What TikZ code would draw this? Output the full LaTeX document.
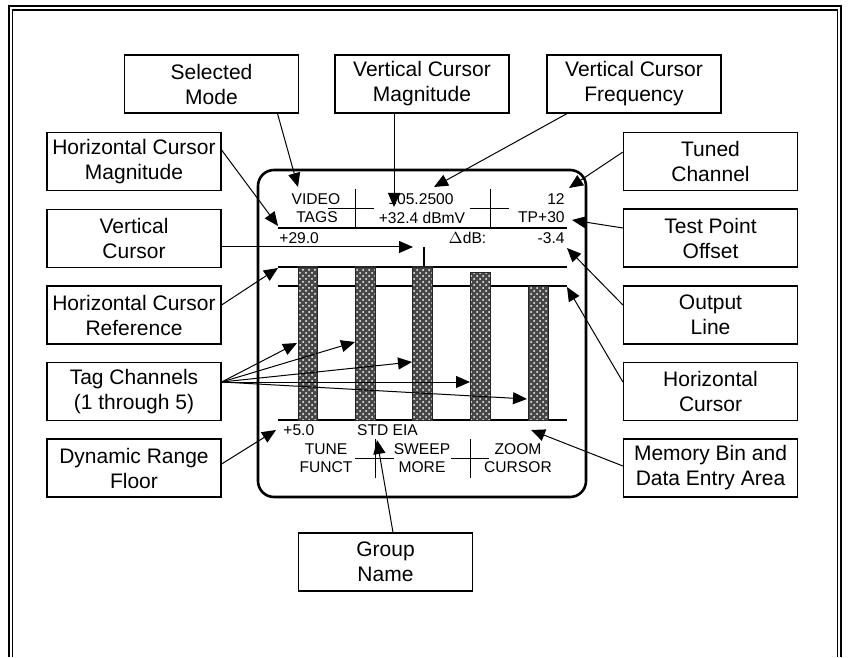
\documentclass[tikz,border=0pt]{standalone}
\usepackage{fontspec}
\setmainfont{Liberation Sans}
\usetikzlibrary{arrows.meta,patterns}
\newcommand{\boxfont}{\fontsize{10.5}{12.5}\selectfont}
\newcommand{\dispfont}{\fontsize{7.8}{9}\selectfont}

\begin{document}
\begin{tikzpicture}[x=0.5pt,y=-0.5pt,
	lbl/.style={draw=black,line width=0.6pt,minimum width=87pt,minimum height=29pt,align=center,inner sep=1pt,font=\boxfont},
	txt/.style={inner sep=0pt,font=\dispfont},
	ptr/.style={-{Triangle[length=7pt,width=6pt]},line width=0.5pt},
	bar/.style={preaction={fill=black!72},pattern=crosshatch dots,pattern color=white,draw=black!85,line width=0.5pt}]

		\useasboundingbox (0,0) rectangle (849,657);

		%frame
		\draw[line width=1pt] (9,657) -- (9,6) -- (841,6) -- (841,657);
		\draw[line width=0.6pt] (12.5,657) -- (12.5,10) -- (837.5,10) -- (837.5,657);

		%display
		\draw[line width=1.3pt,rounded corners=8pt] (258,170) rectangle (586,497);

		%display texts
		\node[txt] (video) at (316,199) {VIDEO};
		\node[txt] (tags) at (317,217.5) {TAGS};
		\node[txt] (freq) at (421,199) {105.2500};
		\node[txt] (mag) at (422,217.5) {+32.4 dBmV};
		\node[txt,anchor=east] (chan) at (565,199) {12};
		\node[txt,anchor=east] (tp) at (565,217.5) {TP+30};
		\node[txt,anchor=west] (hmag) at (279,238) {+29.0};
		\node[txt] (ddb) at (467.5,238) {$\Delta$dB:};
		\node[txt,anchor=east] (dval) at (565,238) {-3.4};
		\node[txt,anchor=west] (floor) at (283,430) {+5.0};
		\node[txt] (grp) at (387.5,430) {STD EIA};
		\node[txt] (tune) at (326,449) {TUNE};
		\node[txt] (funct) at (326,467) {FUNCT};
		\node[txt] (sweep) at (422,449) {SWEEP};
		\node[txt] (more) at (422,467) {MORE};
		\node[txt] (zoom) at (518,449) {ZOOM};
		\node[txt] (curs) at (518,467) {CURSOR};

		%display lines
		\draw[line width=0.5pt] (355,189) -- (355,228);
		\draw[line width=0.5pt] (328,209) -- (374,209);
		\draw[line width=0.5pt] (490,189) -- (490,228);
		\draw[line width=0.5pt] (470,209) -- (509,209);
		\draw[line width=0.6pt] (278,228) -- (567,228);
		\draw[line width=0.6pt] (424,247) -- (424,267);
		\draw[line width=0.6pt] (278,267) -- (567,267);
		\draw[line width=0.6pt] (278,286) -- (567,286);
		\draw[line width=0.6pt] (278,420) -- (567,420);
		\draw[line width=0.5pt] (375,439) -- (375,478);
		\draw[line width=0.5pt] (355,458) -- (394,458);
		\draw[line width=0.5pt] (470,439) -- (470,478);
		\draw[line width=0.5pt] (451,458) -- (489,458);

		%tag bars
		\draw[bar] (298,267) rectangle (317,420);
		\draw[bar] (355,267) rectangle (375,420);
		\draw[bar] (412,267) rectangle (432,420);
		\draw[bar] (470,272) rectangle (490,420);
		\draw[bar] (528,286) rectangle (548,420);

		%top boxes
		\node[lbl] (sm) at (211.5,84) {Selected\\Mode};
		\node[lbl] (vcm) at (422,84) {Vertical Cursor\\Magnitude};
		\node[lbl] (vcf) at (634,84) {Vertical Cursor\\Frequency};

		%left boxes
		\node[lbl] (hcm) at (134,161.5) {Horizontal Cursor\\Magnitude};
		\node[lbl] (vc) at (134,238.5) {Vertical\\Cursor};
		\node[lbl] (hcr) at (134,315) {Horizontal Cursor\\Reference};
		\node[lbl] (tag) at (134,391.5) {Tag Channels\\(1 through 5)};
		\node[lbl] (drf) at (134,468) {Dynamic Range\\Floor};

		%right boxes
		\node[lbl] (tc) at (710.5,161.5) {Tuned\\Channel};
		\node[lbl] (tpo) at (710.5,238) {Test Point\\Offset};
		\node[lbl] (ol) at (710.5,315) {Output\\Line};
		\node[lbl] (hc) at (710.5,391.5) {Horizontal\\Cursor};
		\node[lbl] (mb) at (710.5,468) {Memory Bin and\\Data Entry Area};

		%bottom box
		\node[lbl] (gn) at (385.5,562) {Group\\Name};

		%arrow ends
		\coordinate (pmode) at (298,187);
		\coordinate (pmag) at (394,207);
		\coordinate (pfreq) at (434,187);
		\coordinate (pchan) at (569,188);
		\coordinate (phmag) at (278,226);
		\coordinate (pvc) at (413,247);
		\coordinate (phcr) at (278,268);
		\coordinate (ptag1) at (297,343);
		\coordinate (ptag2) at (355,342);
		\coordinate (ptag3) at (412,362);
		\coordinate (ptag4) at (470,382);
		\coordinate (ptag5) at (527,399);
		\coordinate (pfloor) at (276,430);
		\coordinate (pgrp) at (377,440);
		\coordinate (pmem) at (531,430);
		\coordinate (phc) at (567,287);
		\coordinate (pout) at (567,248);
		\coordinate (ptp) at (572,220);

		%arrows
		\draw[ptr] ([xshift=33pt]sm.south) -- (pmode);
		\draw[ptr] ([xshift=-14pt]vcm.south) -- (pmag);
		\draw[ptr] ([xshift=-33.5pt]vcf.south) -- (pfreq);
		\draw[ptr] ([yshift=4.75pt]tc.west) -- (pchan);
		\draw[ptr] ([yshift=5.75pt]hcm.east) -- (phmag);
		\draw[ptr] ([yshift=-4.25pt]vc.east) -- (pvc);
		\draw[ptr] ([yshift=5pt]hcr.east) -- (phcr);
		\draw[ptr] ([yshift=4.75pt]tag.east) -- (ptag1);
		\draw[ptr] ([yshift=4.75pt]tag.east) -- (ptag2);
		\draw[ptr] ([yshift=4.75pt]tag.east) -- (ptag3);
		\draw[ptr] ([yshift=4.75pt]tag.east) -- (ptag4);
		\draw[ptr] ([yshift=4.75pt]tag.east) -- (ptag5);
		\draw[ptr] ([yshift=2pt]drf.east) -- (pfloor);
		\draw[ptr] ([xshift=3.75pt]gn.north) -- (pgrp);
		\draw[ptr] ([yshift=1pt]mb.west) -- (pmem);
		\draw[ptr] ([yshift=4.75pt]hc.west) -- (phc);
		\draw[ptr] ([yshift=5pt]ol.west) -- (pout);
		\draw[ptr] ([yshift=5pt]tpo.west) -- (ptp);
\end{tikzpicture}
\end{document}
